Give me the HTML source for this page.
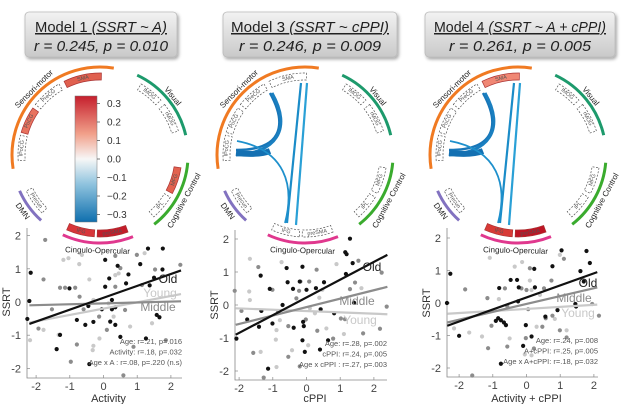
<!DOCTYPE html>
<html><head><meta charset="utf-8">
<style>
html,body{margin:0;padding:0;background:#fff;}
svg{display:block;font-family:"Liberation Sans",sans-serif;}
</style></head>
<body>
<svg id="fig" width="640" height="404" viewBox="0 0 640 404" xmlns="http://www.w3.org/2000/svg">
<defs>
<linearGradient id="boxg" x1="0" y1="0" x2="0" y2="1"><stop offset="0" stop-color="#f2f2f2"/><stop offset="1" stop-color="#c9c9c9"/></linearGradient>
<linearGradient id="cbar" x1="0" y1="0" x2="0" y2="1"><stop offset="0" stop-color="#c51f2d"/><stop offset="0.3" stop-color="#f1a08a"/><stop offset="0.5" stop-color="#f7f7f7"/><stop offset="0.7" stop-color="#8fc3de"/><stop offset="1" stop-color="#0f6fae"/></linearGradient>
<filter id="sh" x="-10%" y="-20%" width="125%" height="150%"><feDropShadow dx="1.5" dy="2" stdDeviation="1.5" flood-color="#000" flood-opacity="0.35"/></filter>
</defs>
<g id="titles"></g>
<g id="circles"></g>
<g id="plots"></g>
</svg>
<script>
// ---------- data ----------
const modelTitles = ["Model 1 ", "Model 3 ", "Model 4 "];
const modelFormulas = ["(SSRT ~ A)", "(SSRT ~ cPPI)", "(SSRT ~ A + cPPI)"];
const modelStats = ["r = 0.245, p = 0.010", "r = 0.246, p = 0.009", "r = 0.261, p = 0.005"];
const xLabels = ["Activity", "cPPI", "Activity + cPPI"];
const xTicks = [-2, -1, 0, 1, 2];
const yTicks = [-2, -1, 0, 1, 2];
const statLines1 = ["Age: r=.21, p=.016", "Activity: r=.18, p=.032", "Age x A : r=.08, p=.220 (n.s)"];
const statLines2 = ["Age: r=.28, p=.002", "cPPI: r=.24, p=.005", "Age x cPPI : r=.27, p=.003"];
const statLines3 = ["Age: r=.24, p=.008", "A+cPPI: r=.25, p=.005", "Age x A+cPPI: r=.18, p=.032"];
const cbTicks = [0.3, 0.2, 0.1, 0.0, -0.1, -0.2, -0.3];

const old1 = [[-2.16,0.88],[-2.2,0.03],[-2.26,-0.51],[-1.01,0.41],[-1.29,-0.99],[-1.39,-1.42],[-0.79,-0.54],[-0.54,-0.69],[-0.45,-0.12],[-0.3,-0.6],[-0.05,-0.22],[0.05,1.27],[0.42,1.09],[0.05,0.46],[0.17,0.71],[0.25,0.06],[0.25,-0.22],[0.35,-0.16],[0.2,-0.59],[0.35,-0.69],[0.5,-1.05],[0.67,0.56],[0.74,0.83],[1.09,1.14],[1.32,1.61],[1.76,1.61],[1.75,0.98],[1.26,-1.1],[1.5,0.73],[1.58,-0.39],[1.66,-0.46],[1.37,0.5],[-0.42,-1.87]];
const mid1 = [[-1.73,1.87],[-1.78,0.68],[-1.93,-0.8],[-1.29,0.43],[-1.14,0.43],[-0.84,0.43],[-1.53,-0.22],[-0.71,0.16],[-0.97,-1.8],[-0.79,-1.28],[-0.59,-0.22],[-0.13,-0.44],[0.35,1.39],[0.1,-0.84],[0.5,1.02],[0.64,-0.24],[0.35,0.46],[0.89,-1.35],[0.99,1.42],[1.53,0.98],[2.28,1.12],[1.14,0.51],[0.59,-2.21],[1.85,-1.15]];
const young1 = [[-2.18,-1.15],[-1.19,1.27],[-1.04,1.32],[-0.72,1.14],[-0.64,1.42],[-0.42,0.68],[-0.3,-1.32],[-0.32,-1.45],[-0.12,-1.1],[-1.78,-0.84],[-1.33,-0.99],[-0.3,0.06],[0.15,-0.04],[0.3,-0.44],[1.22,1.47],[0.79,-0.74],[1.44,-0.64],[0.35,0.81],[0.45,0.86]];
const fitOld1 = [[-2.2,-0.66],[2.3,0.95]];
const fitMid1 = [[-2.2,-0.1],[2.3,0.02]];
const fitYoung1 = [[-2.2,-0.62],[2.3,0.24]];

const old2 = [[-2.08,-1.02],[-1.76,-0.44],[-1.41,-0.66],[-1.34,-0.18],[-1.36,0.89],[-1.09,0.49],[-1.01,-0.56],[-1.14,-1.93],[-0.71,0],[-0.59,1.12],[-0.56,0.69],[-0.4,0.49],[-0.38,-0.69],[-0.2,0.71],[-0.12,1.16],[-0.1,-0.51],[-0.08,-0.64],[-0.12,-1.07],[0,0.46],[-0.05,-1.42],[0.28,0.51],[0.42,-0.13],[0.4,-1.35],[0.52,0.69],[0.64,-1.07],[0.82,-0.25],[1.15,1.6],[1.19,1.54],[1.17,0.94],[1.29,2.01],[1.37,1.27],[1.41,0.07]];
const mid2 = [[-2.13,0.43],[-1.93,-0.18],[-1.58,-1.45],[-1.43,1.15],[-1.01,0.46],[-0.84,-0.2],[-0.54,-0.64],[-0.54,-1.57],[-0.3,0.2],[-0.22,0.43],[-0.18,0.71],[0.08,0.71],[0.3,1.07],[-0.02,-0.44],[0.32,-0.78],[0.79,-1.02],[1.02,-0.41],[1.14,-0.43],[1.29,0.48],[1.44,0.68],[1.54,1.34],[1.68,-0.86],[2.23,0.98],[2.18,-0.72],[2.38,-0.05],[-1.27,-2.2],[-0.2,-1.86]];
const young2 = [[-1.68,1.4],[-1.7,0.41],[-1.68,0.15],[-1.36,-1.42],[-0.74,1.3],[-0.89,-0.76],[-0.91,-1.05],[-0.79,-0.46],[-0.43,-1.37],[0.1,-0.1],[0.25,-0.25],[0.47,0.46],[0.38,0.22],[0.59,-0.71],[0.89,1.24],[1.11,-0.88],[1.63,0.51],[0.05,-1.22],[-0.89,-1.88]];
const fitOld2 = [[-2.1,-0.9],[2.4,1.52]];
const fitMid2 = [[-2.1,-0.6],[2.4,0.55]];
const fitYoung2 = [[-2.1,-0.1],[2.4,-0.28]];

const old3 = [[-2.26,0.9],[-2.36,0],[-2,-1.01],[-0.81,0.46],[-0.91,-0.55],[-0.84,-0.47],[-0.76,-0.53],[-0.67,-0.6],[-0.61,-0.68],[-0.47,0.71],[-0.28,0.71],[-0.23,0.48],[-0.25,0.05],[-0.02,-0.68],[0.23,1.05],[0.25,0.48],[0.15,-1.03],[-0.1,-1.32],[-0.76,-1.87],[0.77,1.13],[0.56,-0.42],[0.92,-0.22],[1.04,1.62],[1.6,0.98],[1.7,0.66],[1.78,1.6],[1.88,1.23],[1.47,-0.11],[1.45,-0.03]];
const mid3 = [[-1.82,0.42],[-1.16,0.15],[-1.14,-1.39],[-1.04,-0.7],[-0.64,0.45],[-0.57,-0.1],[-0.15,0.45],[0.1,1.07],[0,0.4],[0.05,-0.19],[0.52,0.45],[0.57,-0.47],[0.74,0.69],[0.77,-0.39],[1.11,1.36],[0.99,-0.84],[1.19,-1.06],[2.15,-0.39],[1.95,-0.03],[-0.57,-1.34],[0.47,-0.73],[-1.61,-2.23],[-0.02,-1.08],[0.22,-1.4]];
const young3 = [[-2.15,-0.78],[-1.7,-0.91],[-1.09,1.39],[-0.82,0.12],[-0.35,1.12],[-0.13,1.26],[0.1,0.69],[0.15,0.4],[-0.5,-1.09],[-0.05,-1.58],[-1.32,-1.03],[0.3,-0.73],[0.99,1.48],[0.84,-0.49],[1.19,-0.84],[0.4,0.25],[0.15,-1.61]];
const fitOld3 = [[-2.35,-0.7],[2.1,0.95]];
const fitMid3 = [[-2.35,-0.6],[2.1,0.48]];
const fitYoung3 = [[-2.35,-0.33],[2.1,-0.05]];

// ---------- helpers ----------
const NS = "http://www.w3.org/2000/svg";
function mk(tag, attrs, parent) {
  const e = document.createElementNS(NS, tag);
  for (const k in attrs) e.setAttribute(k, attrs[k]);
  parent.appendChild(e);
  return e;
}
const T = document.getElementById("titles");
const C = document.getElementById("circles");
const P = document.getElementById("plots");

// ---------- titles ----------
const boxes = [[25,12,152],[223,12,174],[425,12,190]];
const titleLens = [132, 158, 172];
const statLens = [134, 142, 142];
for (let i = 0; i < 3; i++) {
  const [bx, by, bw] = boxes[i];
  const g = mk("g", {}, T);
  
  
  mk("rect", {x:bx, y:by, width:bw, height:45, rx:4, fill:"url(#boxg)", stroke:"#bbb", "stroke-width":0.8, filter:"url(#sh)"}, g);
  const cx = bx + bw/2;
  const t1 = mk("text", {x:cx, y:by+20, "text-anchor":"middle", "font-size":15, fill:"#222", "text-decoration":"underline", textLength:titleLens[i], lengthAdjust:"spacingAndGlyphs"}, g);
  
  
  const s1 = mk("tspan", {}, t1); s1.textContent = modelTitles[i];
  const s2 = mk("tspan", {"font-style":"italic"}, t1); s2.textContent = modelFormulas[i];
  const t2 = mk("text", {x:cx, y:by+39, "text-anchor":"middle", "font-size":15, "font-style":"italic", fill:"#222", textLength:statLens[i], lengthAdjust:"spacingAndGlyphs"}, g);
  
  
  t2.textContent = modelStats[i];
}

// ---------- circles ----------
function pt(cx, cy, r, th) { const a = th*Math.PI/180; return [cx + r*Math.sin(a), cy - r*Math.cos(a)]; }
function arcPath(cx, cy, r, a1, a2) {
  const p1 = pt(cx,cy,r,a1), p2 = pt(cx,cy,r,a2);
  const large = (a2-a1) > 180 ? 1 : 0;
  return `M${p1[0].toFixed(1)},${p1[1].toFixed(1)} A${r},${r} 0 ${large} 1 ${p2[0].toFixed(1)},${p2[1].toFixed(1)}`;
}
function segPath(cx, cy, r1, r2, a1, a2) {
  const p1 = pt(cx,cy,r2,a1), p2 = pt(cx,cy,r2,a2), p3 = pt(cx,cy,r1,a2), p4 = pt(cx,cy,r1,a1);
  return `M${p1[0]},${p1[1]} A${r2},${r2} 0 0 1 ${p2[0]},${p2[1]} L${p3[0]},${p3[1]} A${r1},${r1} 0 0 0 ${p4[0]},${p4[1]} Z`;
}
const groups = [
  {name:"Sensori-motor", a1:261, a2:369, color:"#f07a22"},
  {name:"Visual", a1:25, a2:77, color:"#1d9a6c"},
  {name:"Cognitive  Control", a1:95, a2:142, color:"#3aab2e"},
  {name:"Cingulo-Opercular", a1:158, a2:205, color:"#e0388e"},
  {name:"DMN", a1:222, a2:246, color:"#8272c0"}
];
const nodes = [
  {n:"lPoCG", a1:266, a2:284}, {n:"PoCG", a1:286, a2:305}, {n:"PreCG", a1:308, a2:330}, {n:"SMA", a1:334, a2:361},
  {n:"lMOG", a1:30, a2:48}, {n:"rMOG", a1:52, a2:73},
  {n:"MFG", a1:99, a2:118}, {n:"IPL", a1:121, a2:139},
  {n:"preSMA", a1:160, a2:182}, {n:"IFG", a1:184, a2:204},
  {n:"Precun", a1:225, a2:244}
];
const nodeFills = [
  {SMA:"#e0604f", PoCG:"#e8735f", MFG:"#e3624f", preSMA:"#c41c2a", IFG:"#d8363a"},
  {},
  {SMA:"#f08774", preSMA:"#be1424", IFG:"#d83a36"}
];
const centers = [[100,155],[305,155],[518,155]];
const conns = [
  ["M-4,-72 L-18,68", 2.2, "#1b8cc8"],
  ["M2,-72 L-9,70", 2.2, "#2aa0d6"],
  ["M-35,-62 C-20,-35 -18,-5 -69,-5", 2.5, "#1876b8"],
  ["M-33,-62 C-12,-25 -30,-2 -69,0", 3, "#1a7fc0"],
  ["M-69,-2 C-50,0 -40,-2 -35,-4", 6, "#1470b2"],
  ["M-68,-14 C-20,-5 -10,30 -20,68", 1.8, "#1e90cc"]
];
for (let i = 0; i < 3; i++) {
  const [cx, cy] = centers[i];
  const g = mk("g", {}, C);
  
  
  groups.forEach(gr => {
    const a = mk("path", {d:arcPath(cx,cy,88,gr.a1,gr.a2), fill:"none", stroke:gr.color, "stroke-width":3}, g);
    
    
    const mid = (gr.a1+gr.a2)/2;
    const bottom = mid > 95 && mid < 265;
    const rr = bottom ? 96 : 93;
    const p = pt(cx,cy,rr,mid);
    let rot = mid; if (bottom) rot = mid - 180;
    const t = mk("text", {x:p[0], y:p[1], "text-anchor":"middle", "dominant-baseline":"middle", "font-size":8, fill:"#222", transform:`rotate(${rot.toFixed(1)} ${p[0].toFixed(1)} ${p[1].toFixed(1)})`}, g);
    
    
    t.textContent = gr.name;
  });
  nodes.forEach(nd => {
    const fill = nodeFills[i][nd.n];
    const s = mk("path", {d:segPath(cx,cy,75,82,nd.a1,nd.a2), fill:fill||"none", stroke:fill?"#a33":"#555", "stroke-width":0.7, "stroke-dasharray":fill?"none":"2,1.5"}, g);
    
    
    const mid = (nd.a1+nd.a2)/2;
    const p = pt(cx,cy,78.5,mid);
    const bottom = mid > 95 && mid < 265;
    const rot = bottom ? mid - 180 : mid;
    const t = mk("text", {x:p[0], y:p[1], "text-anchor":"middle", "dominant-baseline":"middle", "font-size":5.5, fill:"#555", transform:`rotate(${rot.toFixed(1)} ${p[0].toFixed(1)} ${p[1].toFixed(1)})`}, g);
    
    
    t.textContent = nd.n;
  });
  if (i > 0) {
    conns.forEach(c => {
      const l = mk("path", {d:c[0], transform:`translate(${cx} ${cy})`, fill:"none", stroke:c[2], "stroke-width":c[1]}, g);
      
      
    });
  }
}
// colorbar
const cb = mk("g", {}, C);


mk("rect", {x:75, y:96, width:22, height:126, fill:"url(#cbar)", stroke:"#777", "stroke-width":0.5}, cb);
cbTicks.forEach(v => {
  const y = 159 - v * 185;
  mk("line", {x1:97, x2:100, y1:y, y2:y, stroke:"#444", "stroke-width":0.7}, cb);
  const t = mk("text", {x:107, y:y+3.5, "font-size":10, fill:"#333"}, cb);
  
  
  t.textContent = (v < 0 ? "\u2212" + Math.abs(v).toFixed(1) : v.toFixed(1));
});

// ---------- scatter plots ----------
const panels = [
  {x0:103.5, xu:33.7, y0:302, yu:33.2, left:27, right:182, top:228, bottom:378, old:old1, mid:mid1, young:young1, fo:fitOld1, fm:fitMid1, fy:fitYoung1, stats:statLines1,
   lab:[["Old",168,283,"#222"],["Young",160,297,"#c8c8c8"],["Middle",158,311,"#8a8a8a"]]},
  {x0:306.5, xu:33.7, y0:305, yu:33, left:235, right:387, top:230, bottom:380, old:old2, mid:mid2, young:young2, fo:fitOld2, fm:fitMid2, fy:fitYoung2, stats:statLines2,
   lab:[["Old",372,271,"#222"],["Middle",357,305,"#8a8a8a"],["Young",360,324,"#c8c8c8"]]},
  {x0:526.5, xu:33.7, y0:303, yu:32.5, left:447, right:598, top:228, bottom:377, old:old3, mid:mid3, young:young3, fo:fitOld3, fm:fitMid3, fy:fitYoung3, stats:statLines3,
   lab:[["Old",588,287,"#222"],["Middle",574,302,"#8a8a8a"],["Young",578,317,"#c8c8c8"]]}
];
panels.forEach((pp, i) => {
  const X = v => pp.x0 + v*pp.xu, Y = v => pp.y0 - v*pp.yu;
  const g = mk("g", {}, P);
  
  
  const ax = mk("path", {d:`M${pp.left},${pp.top} L${pp.left},${pp.bottom} L${pp.right},${pp.bottom}`, fill:"none", stroke:"#888", "stroke-width":0.8}, g);
  
  
  xTicks.forEach(v => {
    mk("line", {x1:X(v), x2:X(v), y1:pp.bottom, y2:pp.bottom-3, stroke:"#888", "stroke-width":0.7}, g);
    const t = mk("text", {x:X(v), y:pp.bottom+12, "text-anchor":"middle", "font-size":11, fill:"#444"}, g);
    
    
    t.textContent = v < 0 ? "-" + Math.abs(v) : String(v);
  });
  yTicks.forEach(v => {
    mk("line", {x1:pp.left, x2:pp.left+3, y1:Y(v), y2:Y(v), stroke:"#888", "stroke-width":0.7}, g);
    const t = mk("text", {x:pp.left-6, y:Y(v)+4, "text-anchor":"end", "font-size":11, fill:"#444"}, g);
    
    
    t.textContent = v < 0 ? "-" + Math.abs(v) : String(v);
  });
  const xl = mk("text", {x:(pp.left+pp.right)/2 + 4, y:402, "text-anchor":"middle", "font-size":11, fill:"#333"}, g);
  
  
  xl.textContent = xLabels[i];
  const yl = mk("text", {x:0, y:0, "text-anchor":"middle", "font-size":11, fill:"#333", transform:`translate(${pp.left-17} ${pp.y0}) rotate(-90)`}, g);
  
  
  yl.textContent = "SSRT";
  [[pp.young,"#c9c9c9"],[pp.mid,"#8c8c8c"],[pp.old,"#111"]].forEach(([arr,col]) => {
    arr.forEach(d => {
      const c = mk("circle", {cx:X(d[0]), cy:Y(d[1]), r:2.1, fill:col}, g);
      
      
    });
  });
  [[pp.fy,"#c9c9c9"],[pp.fm,"#8c8c8c"],[pp.fo,"#111"]].forEach(([f,col]) => {
    const l = mk("line", {x1:X(f[0][0]), y1:Y(f[0][1]), x2:X(f[1][0]), y2:Y(f[1][1]), stroke:col, "stroke-width":2.2}, g);
    
    
  });
  pp.lab.forEach(([s,x,y,col]) => {
    const t = mk("text", {x:x, y:y, "text-anchor":"middle", "font-size":12, fill:col}, g);
    
    
    t.textContent = s;
  });
  pp.stats.forEach((s, k) => {
    const t = mk("text", {x:pp.right, y:pp.bottom-34+k*10.5, "text-anchor":"end", "font-size":7.5, fill:"#555"}, g);
    
    
    t.textContent = s;
  });
});
</script>
</body></html>
